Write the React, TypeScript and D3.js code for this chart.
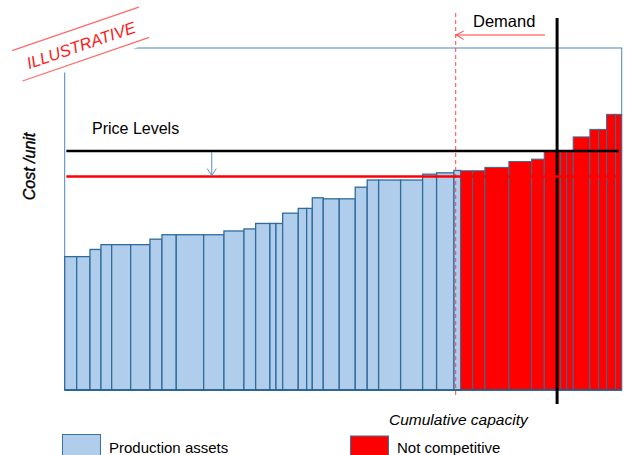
import { scaleLinear, cumsum } from "d3";

// capacity of each asset (share of total), sorted along the merit order
const capacity = [
  2.15, 2.39, 1.97, 1.92, 3.41, 3.47, 2.15, 2.57, 4.92, 3.64, 3.59, 2.1, 2.57, 1.08,
  1.2, 2.8, 1.51, 1.01, 1.97, 2.87, 2.87, 2.15, 2.05, 3.95, 3.95, 2.51, 3.11, 1.2,
  2.15, 2.21, 4.31, 4.08, 2.26, 2.94, 1.08, 1.18, 3.0, 1.56, 1.44, 1.62, 1.08,
];
// cost per unit of each asset
const unitCost = [
  39.0, 39.0, 41.1, 42.5, 42.5, 42.5, 44.1, 45.4, 45.4, 45.4, 46.5, 47.1, 48.7, 48.7,
  48.7, 51.7, 53.1, 53.1, 56.2, 55.9, 55.9, 59.3, 61.4, 61.4, 61.4, 63.1, 63.5, 64.2,
  64.1, 64.1, 65.1, 66.8, 67.5, 69.9, 69.9, 69.9, 74.0, 76.2, 76.2, 80.6, 80.6,
];
const nCompetitive = 28;
const priceLevels = [69.9, 62.4]; // old, new
const demandAt = 88.4;
const cutoffAt = 70.2;
const arrowAt = 26.4;
const legendLabels = ["Production assets", "Not competitive"];

const W = 626;
const H = 455;
const FONT = "'Liberation Sans', Arial, sans-serif";

export default function App() {
  let x = scaleLinear().domain([0, 100]).range([64.7, 621.7]);
  let y = scaleLinear().domain([0, 100]).range([390, 48]);

  let ends = Array.from(cumsum(capacity));
  let bars = capacity.map((c, i) => ({
    x0: ends[i] - c,
    x1: ends[i],
    cost: unitCost[i],
    blue: i < nCompetitive,
  }));

  let xa = x(arrowAt);
  let yTop = y(priceLevels[0]);
  let yLow = y(priceLevels[1]);

  return (
    <svg
      width={W}
      height={H}
      style={{ position: "absolute", left: 0, top: 0, background: "#fff" }}
    >
      {/* frame */}
      <rect
        x={x(0)}
        y={y(100)}
        width={x(100) - x(0)}
        height={y(0) - y(100)}
        fill="none"
        stroke="#4a86b8"
        strokeWidth={1}
      />

      {/* merit order bars */}
      <g>
        {bars.map((b, i) => (
          <rect
            key={i}
            x={x(b.x0)}
            y={y(b.cost)}
            width={x(b.x1) - x(b.x0)}
            height={y(0) - y(b.cost)}
            fill={b.blue ? "#b0cdeb" : "#ff0000"}
            stroke={b.blue ? "#2f6c9c" : "#3b6a92"}
            strokeWidth={b.blue ? 1.3 : 1}
          />
        ))}
      </g>
      <line x1={x(0)} x2={x(100)} y1={y(0)} y2={y(0)} stroke="#1f5a8a" strokeWidth={1.5} />

      {/* cutoff */}
      <line
        x1={x(cutoffAt)}
        x2={x(cutoffAt)}
        y1={13}
        y2={397}
        stroke="#ff4545"
        strokeWidth={1}
        strokeDasharray="4,3"
      />

      {/* demand */}
      <line x1={x(demandAt)} x2={x(demandAt)} y1={18} y2={404} stroke="#000" strokeWidth={3} />
      <text x={473} y={27} fontFamily={FONT} fontSize={16.5} fill="#000">
        Demand
      </text>
      <line x1={545} x2={x(cutoffAt) + 0.5} y1={35} y2={35} stroke="#ff3b3b" strokeWidth={1} />
      <polyline
        points={`${x(cutoffAt) + 8},31 ${x(cutoffAt) + 0.5},35 ${x(cutoffAt) + 8},39.5`}
        fill="none"
        stroke="#ff3b3b"
        strokeWidth={1}
      />

      {/* price levels */}
      <line x1={x(0.3)} x2={x(99.5)} y1={yLow} y2={yLow} stroke="#ff0000" strokeWidth={2.5} />
      <line x1={x(0.3)} x2={x(99.5)} y1={yTop} y2={yTop} stroke="#000" strokeWidth={2.5} />
      <line x1={xa} x2={xa} y1={yTop + 1} y2={yLow - 1} stroke="#5b8fbf" strokeWidth={1} />
      <polyline
        points={`${xa - 4.5},${yLow - 8} ${xa},${yLow - 1} ${xa + 4.5},${yLow - 8}`}
        fill="none"
        stroke="#5b8fbf"
        strokeWidth={1}
      />
      <text x={92} y={134} fontFamily={FONT} fontSize={16} fill="#000">
        Price Levels
      </text>

      {/* axis titles */}
      <text
        transform="translate(35,166.5) rotate(-90)"
        textAnchor="middle"
        fontFamily={FONT}
        fontSize={16}
        fontStyle="italic"
        fill="#000"
        stroke="#000"
        strokeWidth={0.4}
      >
        Cost /unit
      </text>
      <text x={389} y={425} fontFamily={FONT} fontSize={15.5} fontStyle="italic" fill="#000">
        Cumulative capacity
      </text>

      {/* stamp */}
      <g transform="translate(81,45) rotate(-19)">
        <rect x={-76} y={-24} width={152} height={44.5} fill="#fff" />
        <line x1={-67} x2={67} y1={-17} y2={-17} stroke="#ff6b6b" strokeWidth={1.3} />
        <line x1={-67} x2={67} y1={15} y2={15} stroke="#ff6b6b" strokeWidth={1.3} />
        <text
          x={0}
          y={6}
          textAnchor="middle"
          fontFamily={FONT}
          fontSize={16.5}
          fontStyle="italic"
          fill="#ff1a1a"
        >
          ILLUSTRATIVE
        </text>
      </g>

      {/* legend */}
      <rect x={62.5} y={434.5} width={38} height={24} fill="#b0cdeb" stroke="#3a72a2" strokeWidth={1} />
      <text x={109} y={453} fontFamily={FONT} fontSize={15} fill="#000">
        {legendLabels[0]}
      </text>
      <rect x={350.5} y={436} width={38} height={24} fill="#ff0000" stroke="#3a72a2" strokeWidth={1} />
      <text x={397} y={453} fontFamily={FONT} fontSize={15} fill="#000">
        {legendLabels[1]}
      </text>
    </svg>
  );
}
